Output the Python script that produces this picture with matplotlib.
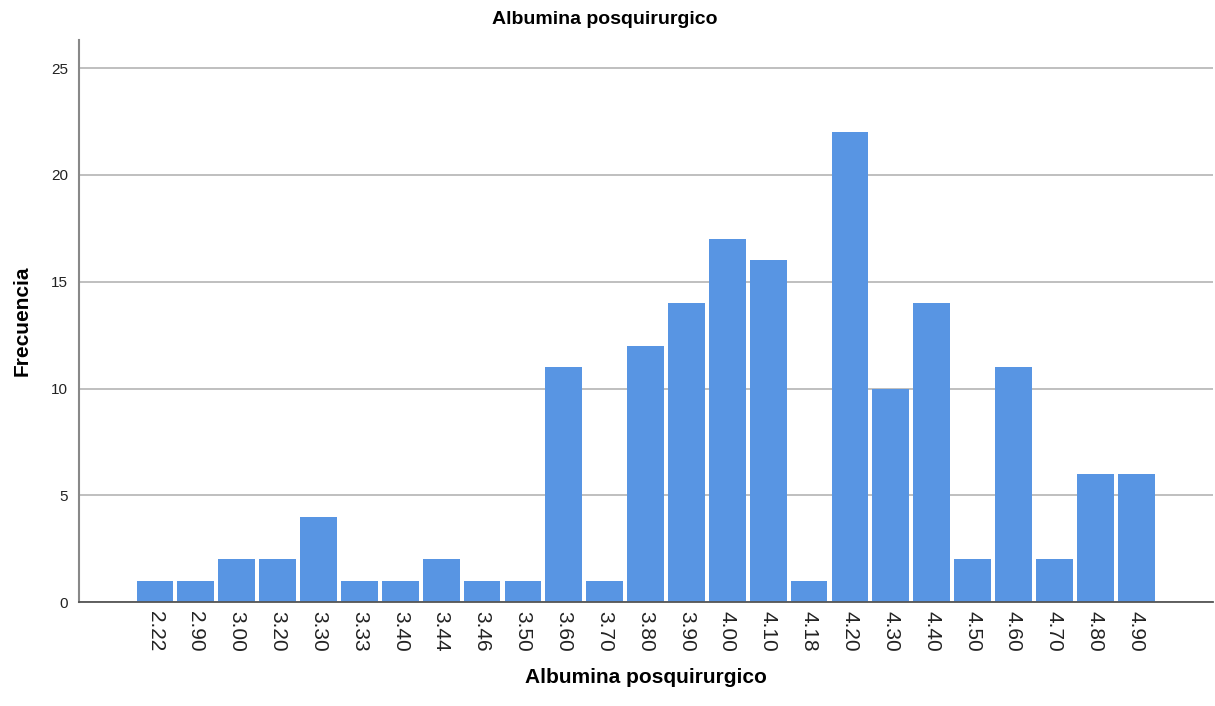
import matplotlib
matplotlib.use('Agg')
import matplotlib.pyplot as plt
import numpy as np

categorias = ['2.22', '2.90', '3.00', '3.20', '3.30', '3.33', '3.40', '3.44', '3.46',
              '3.50', '3.60', '3.70', '3.80', '3.90', '4.00', '4.10', '4.18', '4.20',
              '4.30', '4.40', '4.50', '4.60', '4.70', '4.80', '4.90']
frecuencias = [1, 1, 2, 2, 4, 1, 1, 2, 1, 1, 11, 1, 12, 14, 17, 16, 1, 22,
               10, 14, 2, 11, 2, 6, 6]
y_ticks = [0, 5, 10, 15, 20, 25]

plt.rcParams['font.family'] = ['Liberation Sans', 'DejaVu Sans']

fig = plt.figure(figsize=(12.15, 7.06), dpi=100)
ax = fig.add_axes([0.065, 0.147, 0.933, 0.796])

x = np.arange(len(categorias))
ax.bar(x, frecuencias, width=0.9, color='#5895e3', zorder=3)

ax.set_xlim(-1.86, 25.87)
ax.set_ylim(0, 26.3)
ax.set_yticks(y_ticks)
ax.yaxis.grid(True, color='#b4b4b4', linewidth=1.2, zorder=0)
ax.set_xticks(x)
ax.set_xticklabels(categorias, rotation=-90, fontsize=15, color='#222222')
ax.tick_params(axis='y', labelsize=11, length=0, pad=8, labelcolor='#222222')
ax.tick_params(axis='x', length=0, pad=6)

for s in ['top', 'right']:
    ax.spines[s].set_visible(False)
ax.spines['left'].set_color('#888888')
ax.spines['left'].set_linewidth(1.5)
ax.spines['bottom'].set_color('#555555')
ax.spines['bottom'].set_linewidth(1.3)
ax.spines['bottom'].set_zorder(4)

# el titulo va centrado en la figura, no en los ejes
fig.text(0.498, 0.972, 'Albumina posquirurgico', fontsize=14, fontweight='bold',
         ha='center', va='center')
ax.set_xlabel('Albumina posquirurgico', fontsize=15, fontweight='bold', labelpad=12)
ax.set_ylabel('Frecuencia', fontsize=15, fontweight='bold', labelpad=14)

fig.savefig('out.png', dpi=100)
